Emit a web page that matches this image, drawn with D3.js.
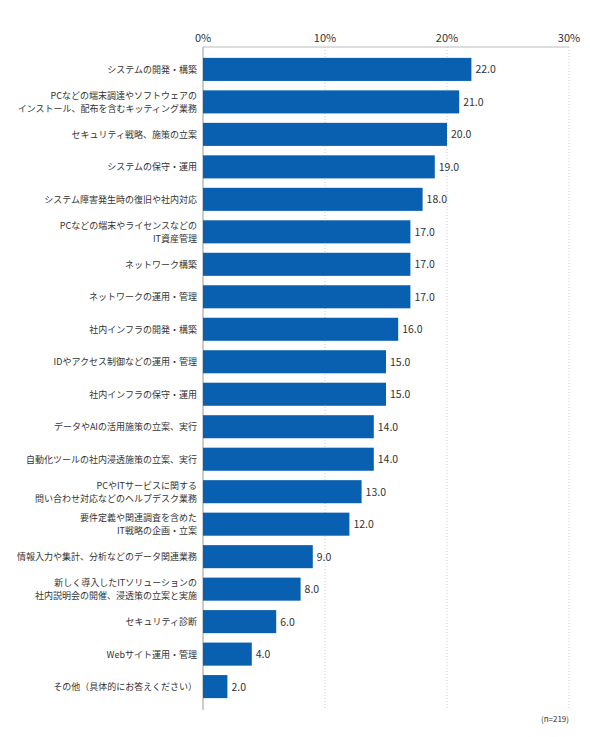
<!DOCTYPE html>
<html><head><meta charset="utf-8">
<script src="https://cdn.jsdelivr.net/npm/d3@7"></script>
<style>body{margin:0;background:#fff}</style>
</head><body>
<svg id="chart" width="590" height="737"></svg>
<script>
var categories = [
  ["システムの開発・構築"],
  ["PCなどの端末調達やソフトウェアの","インストール、配布を含むキッティング業務"],
  ["セキュリティ戦略、施策の立案"],
  ["システムの保守・運用"],
  ["システム障害発生時の復旧や社内対応"],
  ["PCなどの端末やライセンスなどの","IT資産管理"],
  ["ネットワーク構築"],
  ["ネットワークの運用・管理"],
  ["社内インフラの開発・構築"],
  ["IDやアクセス制御などの運用・管理"],
  ["社内インフラの保守・運用"],
  ["データやAIの活用施策の立案、実行"],
  ["自動化ツールの社内浸透施策の立案、実行"],
  ["PCやITサービスに関する","問い合わせ対応などのヘルプデスク業務"],
  ["要件定義や関連調査を含めた","IT戦略の企画・立案"],
  ["情報入力や集計、分析などのデータ関連業務"],
  ["新しく導入したITソリューションの","社内説明会の開催、浸透策の立案と実施"],
  ["セキュリティ診断"],
  ["Webサイト運用・管理"],
  ["その他（具体的にお答えください）"]
];
var values = [22,21,20,19,18,17,17,17,16,15,15,14,14,13,12,9,8,6,4,2];
var ticks = [0,10,20,30];

var svg = d3.select("#chart");
var font = "'Noto Sans CJK JP', sans-serif";
var x = d3.scaleLinear().domain([0,30]).range([203,569]);
var y = d3.scaleBand().domain(d3.range(values.length)).range([53,703]).paddingInner(0.29).paddingOuter(0.15);

// grid
svg.selectAll(".grid").data(ticks.slice(1)).enter().append("line")
  .attr("x1", function(d){return x(d);}).attr("x2", function(d){return x(d);})
  .attr("y1", 47).attr("y2", 710)
  .attr("stroke", "#ccc").attr("stroke-dasharray", "1,2");
svg.append("line").attr("x1",203).attr("x2",569).attr("y1",47).attr("y2",47).attr("stroke","#bbb");
svg.append("line").attr("x1",203).attr("x2",203).attr("y1",47).attr("y2",710).attr("stroke","#999");

svg.selectAll(".tick").data(ticks).enter().append("text")
  .attr("x", function(d){return x(d);}).attr("y", 42)
  .attr("text-anchor","middle").attr("font-family",font).attr("font-size",11).attr("fill","#333")
  .text(function(d){return d+"%";});

svg.selectAll(".bar").data(values).enter().append("rect")
  .attr("x", x(0)).attr("y", function(d,i){return y(i);})
  .attr("width", function(d){return x(d)-x(0);}).attr("height", y.bandwidth())
  .attr("fill", "#0a60b0");

svg.selectAll(".val").data(values).enter().append("text")
  .attr("x", function(d){return x(d)+4;}).attr("y", function(d,i){return y(i)+y.bandwidth()/2+4;})
  .attr("font-family",font).attr("font-size",10.5).attr("fill","#333")
  .text(function(d){return d.toFixed(1);});

var lab = svg.selectAll(".lab").data(categories).enter().append("text")
  .attr("text-anchor","end").attr("font-family",font).attr("font-size",9).attr("fill","#333");
lab.each(function(d,i){
  var t = d3.select(this), cy = y(i)+y.bandwidth()/2;
  d.forEach(function(s,k){
    t.append("tspan").attr("x",197).attr("y", cy+3.5+(k-(d.length-1)/2)*13).text(s);
  });
});

svg.append("text").attr("x",569).attr("y",722).attr("text-anchor","end")
  .attr("font-family",font).attr("font-size",8).attr("fill","#333").text("(n=219)");
</script>
</body></html>
